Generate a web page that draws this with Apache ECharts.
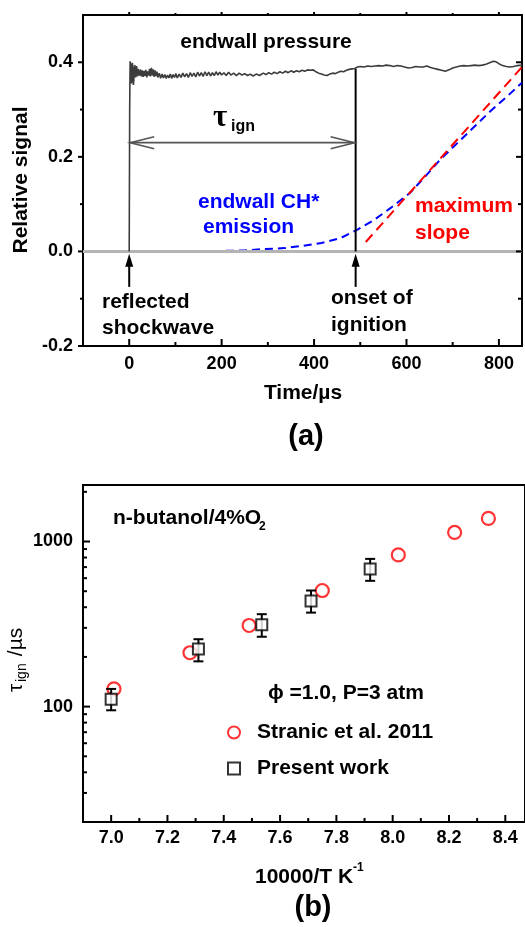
<!DOCTYPE html>
<html>
<head>
<meta charset="utf-8">
<script src="https://cdn.jsdelivr.net/npm/echarts@6/dist/echarts.min.js"></script>
<style>
  html, body { margin: 0; padding: 0; background: #fff; }
  #chart { width: 525px; height: 927px; }
</style>
</head>
<body>
<div id="chart"></div>
<script>
// ---------- panel (a): endwall signals ----------
const pressureTrace = [
  [0, 0.000], [1, 0.300], [2, 0.402], [3, 0.396], [4, 0.372], [5, 0.355], [6, 0.392],
  [7, 0.399], [8, 0.380], [9, 0.352], [10, 0.362], [11, 0.388], [12, 0.394], [13, 0.380],
  [14, 0.368], [15, 0.384], [16, 0.392], [17, 0.378], [18, 0.370], [19, 0.386], [20, 0.389],
  [22, 0.372], [24, 0.385], [26, 0.370], [28, 0.383], [30, 0.369], [32, 0.382], [34, 0.371],
  [36, 0.384], [38, 0.368], [40, 0.381], [42, 0.372], [44, 0.386], [46, 0.370], [48, 0.388],
  [50, 0.372], [52, 0.385], [54, 0.369], [56, 0.383], [58, 0.371], [60, 0.380], [62, 0.368],
  [65, 0.377], [68, 0.366], [71, 0.375], [74, 0.367], [77, 0.374], [80, 0.366], [83, 0.373],
  [86, 0.367], [89, 0.375], [92, 0.366], [95, 0.374], [98, 0.368], [101, 0.376], [104, 0.367],
  [108, 0.375], [112, 0.368], [116, 0.377], [120, 0.369], [124, 0.376], [128, 0.368],
  [132, 0.378], [136, 0.370], [140, 0.377], [144, 0.369], [148, 0.379], [152, 0.371],
  [156, 0.378], [160, 0.370], [164, 0.380], [168, 0.372], [172, 0.379], [176, 0.371],
  [180, 0.378], [184, 0.372], [188, 0.380], [192, 0.373], [196, 0.379], [200, 0.373],
  [205, 0.378], [210, 0.372], [215, 0.379], [220, 0.373], [226, 0.377], [232, 0.372],
  [238, 0.377], [244, 0.373], [250, 0.376], [256, 0.372], [262, 0.375], [268, 0.371],
  [275, 0.375], [282, 0.372], [290, 0.377], [296, 0.374], [302, 0.378], [308, 0.375],
  [314, 0.379], [320, 0.376], [326, 0.380], [332, 0.377], [338, 0.381], [344, 0.378],
  [350, 0.382], [356, 0.379], [362, 0.382], [368, 0.380], [374, 0.383], [380, 0.381],
  [386, 0.384], [392, 0.383], [398, 0.384], [404, 0.380], [410, 0.377], [416, 0.375],
  [422, 0.373], [428, 0.372], [434, 0.375], [440, 0.377], [446, 0.376], [452, 0.379],
  [458, 0.381], [464, 0.380], [470, 0.383], [476, 0.385], [482, 0.386], [488, 0.387],
  [494, 0.390], [500, 0.391], [508, 0.390], [516, 0.392], [524, 0.391], [532, 0.392],
  [540, 0.393], [548, 0.392], [556, 0.394], [564, 0.393], [572, 0.391], [580, 0.393],
  [588, 0.392], [596, 0.390], [604, 0.388], [612, 0.389], [620, 0.391], [628, 0.390],
  [636, 0.390], [644, 0.392], [652, 0.389], [660, 0.387], [668, 0.385], [676, 0.383],
  [684, 0.381], [692, 0.384], [700, 0.388], [708, 0.390], [716, 0.392], [724, 0.393],
  [732, 0.392], [740, 0.393], [748, 0.394], [756, 0.393], [764, 0.394], [772, 0.396],
  [780, 0.399], [788, 0.402], [794, 0.401], [800, 0.397], [808, 0.393], [816, 0.391],
  [824, 0.390], [832, 0.391], [840, 0.393], [850, 0.394]
];
const chTime   = [-100, -50, 0, 50, 100, 150, 200, 250, 290, 336, 377, 416, 457, 490, 529, 566, 609, 640, 674, 710, 746, 782, 818, 850];
const chSignal = [0, 0.001, 0, 0.001, 0, 0.001, 0.001, 0.002, 0.005, 0.007, 0.012, 0.018, 0.028, 0.044, 0.066, 0.092, 0.125, 0.158, 0.195, 0.229, 0.263, 0.297, 0.328, 0.357];
const slopeTime   = [512, 850];
const slopeSignal = [0.02, 0.39];
const onsetTime = 490;
const onsetTop = 0.386;
const tauLevel = 0.23;
const markerTimes = [0, 490];
const markerFrom = -0.075, markerTo = -0.005;
const timeMin = -100, timeMax = 850;
const signalMin = -0.2, signalMax = 0.5;
const timeTicks = [0, 200, 400, 600, 800];
const timeMinor = [100, 300, 500, 700];
const signalTicks = [-0.2, 0, 0.2, 0.4];
const signalMinor = [-0.1, 0.1, 0.3];

// ---------- panel (b): ignition delay ----------
const stranicX   = [7.01, 7.28, 7.49, 7.75, 8.02, 8.22, 8.34];
const stranicTau = [128, 212, 310, 505, 830, 1135, 1380];
const presentX   = [7.0, 7.31, 7.535, 7.71, 7.92];
const presentTau = [111, 223, 313, 437, 681];
const presentLow = [95, 188, 265, 371, 578];
const presentHigh = [128, 256, 363, 505, 785];
const invTMin = 6.9, invTMax = 8.47;
const tauMin = 20, tauMax = 2200;
const invTTicks = [7.0, 7.2, 7.4, 7.6, 7.8, 8.0, 8.2, 8.4];
const invTMinor = [7.1, 7.3, 7.5, 7.7, 7.9, 8.1, 8.3];
const tauTicks = [100, 1000];
const tauMinor = [30, 40, 50, 60, 70, 80, 90, 200, 300, 400, 500, 600, 700, 800, 900, 2000];

const FONT = '"Liberation Sans", Arial, sans-serif';
const BLACK = '#000';
const zip = (a, b) => a.map((v, i) => [v, b[i]]);

const axisLine = { show: true, onZero: false, lineStyle: { color: BLACK, width: 2 } };
const labelStyle = { color: BLACK, fontFamily: FONT, fontWeight: 'bold', fontSize: 18 };

// tick marks drawn through the axis scales: each point is a tick root, dx/dy its pixel direction
function tickSeries(xi, yi, points, dx, dy) {
  return {
    type: 'custom', xAxisIndex: xi, yAxisIndex: yi, z: 20,
    data: points,
    renderItem: (params, api) => {
      const p = api.coord([api.value(0), api.value(1)]);
      return { type: 'line', shape: { x1: p[0], y1: p[1], x2: p[0] + dx, y2: p[1] + dy },
               style: { stroke: BLACK, lineWidth: 2 } };
    }
  };
}

const chart = echarts.init(document.getElementById('chart'), null, { renderer: 'canvas' });

const txt = (text, x, y, opts) => Object.assign({
  type: 'text', x: x, y: y, z: 50,
  style: Object.assign({
    text: text, fill: BLACK, font: 'bold 21px ' + FONT,
    textAlign: 'left', textVerticalAlign: 'middle', align: 'left', verticalAlign: 'middle'
  }, opts || {})
});

const option = {
  animation: false,
  backgroundColor: '#fff',
  grid: [
    { left: 83, top: 15, width: 439, height: 331, show: true, borderColor: BLACK, borderWidth: 2, backgroundColor: 'transparent' },
    { left: 83, top: 485, width: 444, height: 337, show: true, borderColor: BLACK, borderWidth: 2, backgroundColor: 'transparent' }
  ],
  xAxis: [
    {
      gridIndex: 0, type: 'value', min: timeMin, max: timeMax,
      axisLine: axisLine, axisTick: { show: false }, splitLine: { show: false },
      axisLabel: Object.assign({ customValues: timeTicks, margin: 9, formatter: v => String(v) }, labelStyle)
    },
    {
      gridIndex: 1, type: 'value', min: invTMin, max: invTMax,
      axisLine: axisLine, axisTick: { show: false }, splitLine: { show: false },
      axisLabel: Object.assign({ customValues: invTTicks, margin: 7, formatter: v => v.toFixed(1) }, labelStyle)
    }
  ],
  yAxis: [
    {
      gridIndex: 0, type: 'value', min: signalMin, max: signalMax,
      axisLine: axisLine, axisTick: { show: false }, splitLine: { show: false },
      axisLabel: Object.assign({ customValues: signalTicks, margin: 10, formatter: v => v.toFixed(1) }, labelStyle)
    },
    {
      gridIndex: 1, type: 'log', logBase: 10, min: tauMin, max: tauMax,
      axisLine: axisLine, axisTick: { show: false }, splitLine: { show: false }, minorTick: { show: false },
      axisLabel: Object.assign({ margin: 10, showMinLabel: false, showMaxLabel: false, formatter: v => String(Math.round(v)) }, labelStyle)
    }
  ],
  legend: {
    data: ['Stranic et al. 2011', 'Present work'],
    orient: 'vertical', left: 227, top: 722, padding: 0,
    itemWidth: 12, itemHeight: 12, itemGap: 15,
    formatter: name => '{g| }' + name,
    textStyle: { color: BLACK, fontFamily: FONT, fontWeight: 'bold', fontSize: 21, rich: { g: { width: 12 } } },
    selectedMode: false
  },
  series: [
    {
      name: 'CH*', type: 'line', xAxisIndex: 0, yAxisIndex: 0, symbol: 'none', z: 2,
      data: zip(chTime, chSignal),
      lineStyle: { color: '#0000ff', width: 2, type: [8, 5] }
    },
    {
      name: 'zero', type: 'line', xAxisIndex: 0, yAxisIndex: 0, symbol: 'none', z: 3,
      data: [[timeMin, 0], [timeMax, 0]],
      lineStyle: { color: '#b4b4b4', width: 3 }
    },
    {
      name: 'slope', type: 'line', xAxisIndex: 0, yAxisIndex: 0, symbol: 'none', z: 4,
      data: zip(slopeTime, slopeSignal),
      lineStyle: { color: '#ff0000', width: 2, type: [10, 6] }
    },
    {
      name: 'pressure', type: 'line', xAxisIndex: 0, yAxisIndex: 0, symbol: 'none', z: 5,
      data: pressureTrace,
      lineStyle: { color: '#3c3c3c', width: 1.6 }
    },
    {
      name: 'onset', type: 'line', xAxisIndex: 0, yAxisIndex: 0, symbol: 'none', z: 6,
      data: [[onsetTime, 0], [onsetTime, onsetTop]],
      lineStyle: { color: BLACK, width: 2 }
    },
    {
      name: 'tau', type: 'custom', xAxisIndex: 0, yAxisIndex: 0, z: 7,
      data: [[0, onsetTime, tauLevel]],
      renderItem: (params, api) => {
        const a = api.coord([api.value(0), api.value(2)]);
        const b = api.coord([api.value(1), api.value(2)]);
        const st = { stroke: '#555', lineWidth: 1.6, fill: null };
        return { type: 'group', children: [
          { type: 'line', shape: { x1: a[0], y1: a[1], x2: b[0], y2: b[1] }, style: st },
          { type: 'polyline', shape: { points: [[a[0] + 25, a[1] - 6], [a[0] + 1, a[1]], [a[0] + 25, a[1] + 6]] }, style: st },
          { type: 'polyline', shape: { points: [[b[0] - 25, b[1] - 6], [b[0] - 1, b[1]], [b[0] - 25, b[1] + 6]] }, style: st }
        ] };
      }
    },
    {
      name: 'markers', type: 'custom', xAxisIndex: 0, yAxisIndex: 0, z: 7,
      data: markerTimes.map(t => [t, markerFrom, markerTo]),
      renderItem: (params, api) => {
        const base = api.coord([api.value(0), api.value(1)]);
        const tip = api.coord([api.value(0), api.value(2)]);
        return { type: 'group', children: [
          { type: 'line', shape: { x1: base[0], y1: base[1], x2: tip[0], y2: tip[1] + 8 }, style: { stroke: BLACK, lineWidth: 2 } },
          { type: 'polygon', shape: { points: [[tip[0], tip[1]], [tip[0] - 4, tip[1] + 13], [tip[0] + 4, tip[1] + 13]] }, style: { fill: BLACK } }
        ] };
      }
    },
    // panel (a) ticks
    tickSeries(0, 0, timeTicks.map(v => [v, signalMin]), 0, -7),
    tickSeries(0, 0, timeMinor.map(v => [v, signalMin]), 0, -4),
    tickSeries(0, 0, timeTicks.map(v => [v, signalMax]), 0, -3),
    tickSeries(0, 0, timeMinor.map(v => [v, signalMax]), 0, -2),
    tickSeries(0, 0, signalTicks.map(v => [timeMin, v]), -5, 0),
    tickSeries(0, 0, signalMinor.map(v => [timeMin, v]), -3, 0),
    tickSeries(0, 0, signalTicks.map(v => [timeMax, v]), -6, 0),
    tickSeries(0, 0, signalMinor.map(v => [timeMax, v]), -4, 0),
    {
      name: 'Stranic et al. 2011', type: 'scatter', xAxisIndex: 1, yAxisIndex: 1, z: 2,
      symbol: 'circle', symbolSize: 13,
      data: zip(stranicX, stranicTau),
      itemStyle: { color: 'rgba(255,255,255,0)', borderColor: '#ff0000', borderWidth: 2.2 }
    },
    {
      name: 'errors', type: 'custom', xAxisIndex: 1, yAxisIndex: 1, z: 3,
      data: presentX.map((x, i) => [x, presentLow[i], presentHigh[i]]),
      renderItem: (params, api) => {
        const lo = api.coord([api.value(0), api.value(1)]);
        const hi = api.coord([api.value(0), api.value(2)]);
        const st = { stroke: BLACK, lineWidth: 2 };
        return { type: 'group', children: [
          { type: 'line', shape: { x1: lo[0], y1: lo[1], x2: hi[0], y2: hi[1] }, style: st },
          { type: 'line', shape: { x1: lo[0] - 5, y1: lo[1], x2: lo[0] + 5, y2: lo[1] }, style: st },
          { type: 'line', shape: { x1: hi[0] - 5, y1: hi[1], x2: hi[0] + 5, y2: hi[1] }, style: st }
        ] };
      }
    },
    {
      name: 'Present work', type: 'scatter', xAxisIndex: 1, yAxisIndex: 1, z: 4,
      symbol: 'rect', symbolSize: 11,
      data: zip(presentX, presentTau),
      itemStyle: { color: '#fff', borderColor: BLACK, borderWidth: 2 }
    },
    // panel (b) ticks
    tickSeries(1, 1, invTTicks.map(v => [v, tauMin]), 0, -7),
    tickSeries(1, 1, invTMinor.map(v => [v, tauMin]), 0, -4),
    tickSeries(1, 1, tauTicks.map(v => [invTMin, v]), 7, 0),
    tickSeries(1, 1, tauMinor.map(v => [invTMin, v]), 4, 0)
  ],
  graphic: [
    // panel (a) labels
    txt('endwall pressure', 266, 42, { textAlign: 'center', align: 'center' }),
    txt('τ', 213, 118, { font: 'bold 31px "Liberation Serif", serif' }),
    txt('ign', 231, 127, { font: 'bold 16px ' + FONT }),
    txt('endwall CH*', 198, 202, { fill: '#0000ff' }),
    txt('emission', 203, 227, { fill: '#0000ff' }),
    txt('maximum', 415, 206, { fill: '#ff0000' }),
    txt('slope', 415, 233, { fill: '#ff0000' }),
    txt('reflected', 102, 302),
    txt('shockwave', 102, 328),
    txt('onset of', 331, 298),
    txt('ignition', 331, 325),
    txt('Time/µs', 303, 393, { textAlign: 'center', align: 'center' }),
    txt('(a)', 306, 437, { textAlign: 'center', align: 'center', font: 'bold 29px ' + FONT }),
    {
      type: 'group', x: 21, y: 180, rotation: Math.PI / 2,
      children: [txt('Relative signal', 0, 0, { textAlign: 'center', align: 'center' })]
    },
    // panel (b) labels
    txt('n-butanol/4%O', 113, 518),
    txt('2', 259, 527, { font: 'bold 12px ' + FONT }),
    txt('ϕ =1.0, P=3 atm', 268, 693),
    txt('10000/T K', 255, 877),
    txt('-1', 353, 868, { font: 'bold 12px ' + FONT }),
    txt('(b)', 313, 908, { textAlign: 'center', align: 'center', font: 'bold 29px ' + FONT }),
    {
      type: 'group', x: 16, y: 656, rotation: Math.PI / 2,
      children: [
        txt('τ', -36, 0, { font: '21px ' + FONT }),
        txt('ign', -26, 6, { font: '14px ' + FONT }),
        txt(' /µs', -6, 0, { font: '21px ' + FONT })
      ]
    }
  ]
};

chart.setOption(option);
</script>
</body>
</html>
